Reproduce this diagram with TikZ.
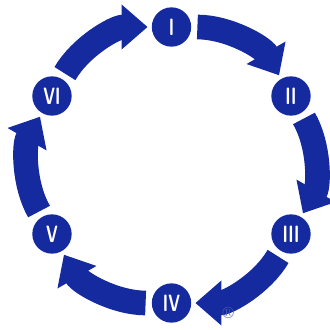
\documentclass[tikz,border=0pt]{standalone}
\usetikzlibrary{arrows.meta}
\definecolor{cycleblue}{RGB}{20,42,158}
\newcommand{\stagenum}[1]{\scalebox{0.95}[1.4]{#1}}

\begin{document}
\begin{tikzpicture}[
  stage/.style={circle, fill=cycleblue, text=white, minimum size=11.8mm, inner sep=0pt, font=\sffamily\bfseries\Large},
  flow/.style={draw=cycleblue, line width=7.4mm, -{Triangle[width=13mm,length=7.8mm]}, shorten <=1.8mm, shorten >=1.2mm, bend left=30, looseness=0.91},
]
  \useasboundingbox (-5.145,-4.95) rectangle (4.725,4.95);
  % stages round the cycle
  \node[stage] (I)   at (90:4.14)  {\stagenum{I}};
  \node[stage] (II)  at (30:4.14)  {\stagenum{II}};
  \node[stage] (III) at (-30:4.14) {\stagenum{III}};
  \node[stage] (IV)  at (-90:4.14) {\stagenum{IV}};
  \node[stage] (V)   at (-150:4.14) {\stagenum{V}};
  \node[stage] (VI)  at (150:4.14) {\stagenum{VI}};
  % arrows, clockwise
  \draw[flow] (I) to (II);
  \draw[flow] (II) to (III);
  \draw[flow] (III) to (IV);
  \draw[flow] (IV) to (V);
  \draw[flow] (V) to (VI);
  \draw[flow] (VI) to (I);
  \node[text=cycleblue!75, font=\fontsize{14}{14}\selectfont, inner sep=0pt] (reg) at (1.7,-4.45) {\textregistered};
\end{tikzpicture}
\end{document}
